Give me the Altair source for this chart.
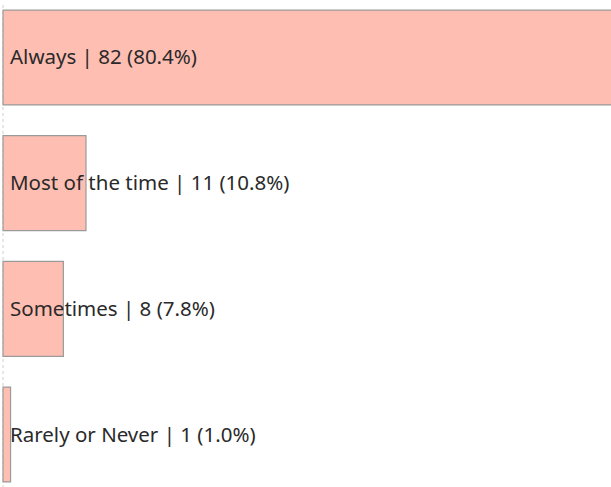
import altair as alt
import pandas as pd

categories = ["Always", "Most of the time", "Sometimes", "Rarely or Never"]
counts = [82, 11, 8, 1]
percents = ["80.4%", "10.8%", "7.8%", "1.0%"]

df = pd.DataFrame({
    "cat": categories,
    "count": counts,
    "pct": percents,
})
df["label"] = df["cat"] + " | " + df["count"].astype(str) + " (" + df["pct"] + ")"

y_enc = alt.Y("cat:N", sort=categories, axis=None,
              scale=alt.Scale(paddingInner=0.245, paddingOuter=0.04))
x_scale = alt.Scale(domain=[-0.4, 80.6], nice=False, zero=False)

bars = alt.Chart(df).mark_bar(
    fill="#ffbeb2", stroke="#9a9a9a", strokeWidth=1.2, clip=True
).encode(
    x=alt.X("count:Q", scale=x_scale, axis=None),
    x2=alt.datum(0),
    y=y_enc,
)

zero = alt.Chart(pd.DataFrame({"z": [0]})).mark_rule(
    color="#cfcfcf", strokeDash=[3, 3], strokeWidth=1
).encode(x=alt.X("z:Q", scale=x_scale, axis=None))

label_text = alt.Chart(df).mark_text(
    align="left", baseline="middle", font="Noto Sans", fontSize=20.5, color="#2a2a2a", dy=1
).encode(
    x=alt.value(10),
    y=y_enc,
    text="label:N",
)

chart = alt.layer(zero, bars, label_text).properties(
    width=611, height=482,
    padding={"top": 5, "left": 0, "right": 0, "bottom": 0},
    autosize=alt.AutoSizeParams(type="none"),
).configure_view(stroke=None)

chart.save("out.html", embed_options={"renderer": "svg", "actions": False})
